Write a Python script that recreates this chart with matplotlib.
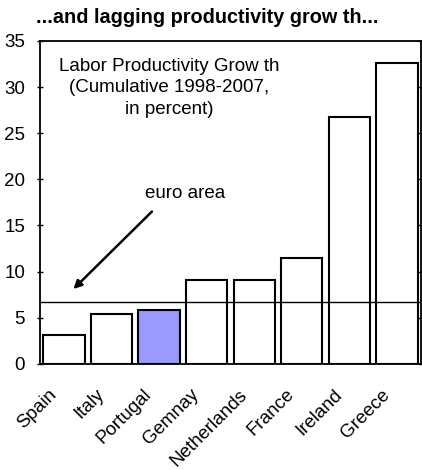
import numpy as np
import matplotlib.pyplot as plt
import matplotlib.transforms as mtransforms

plt.rcParams['font.family'] = ['Liberation Sans', 'DejaVu Sans']

# Kumulatiivinen tuottavuuden kasvu 1998-2007, prosenttia
maat = ['Spain', 'Italy', 'Portugal', 'Gemnay', 'Netherlands', 'France', 'Ireland', 'Greece']
kasvu = [3.1, 5.4, 5.8, 9.1, 9.1, 11.5, 26.8, 32.6]
euroalue = 6.7
korostus = 'Portugal'

fig = plt.figure(figsize=(4.22, 4.70), dpi=100)
ax = fig.add_axes([0.095, 0.226, 0.902, 0.687])

x = np.arange(len(maat))
varit = ['#9999FF' if m == korostus else 'white' for m in maat]
ax.bar(x, kasvu, width=0.87, color=varit, edgecolor='black', linewidth=1.5, zorder=2)
ax.axhline(euroalue, color='black', linewidth=1.0, zorder=3)

ax.set_xlim(-0.5, len(maat) - 0.5)
ax.set_ylim(0, 35)
ax.set_yticks(range(0, 36, 5))
ax.tick_params(axis='y', which='both', direction='inout', length=4.5, width=1,
               labelsize=13.5, right=True, pad=8.5)
ax.tick_params(axis='x', length=0, labelsize=13.5, pad=4)
ax.set_xticks(x)
ax.set_xticklabels(maat, rotation=45, ha='right', rotation_mode='anchor')
siirto = mtransforms.ScaledTranslation(-11.5 / 72, -12 / 72, fig.dpi_scale_trans)
for lab in ax.get_xticklabels():
    lab.set_transform(lab.get_transform() + siirto)
for s in ax.spines.values():
    s.set_linewidth(1.3)

ax.text(0.34, 0.855, 'Labor Productivity Grow th\n(Cumulative 1998-2007,\nin percent)',
        transform=ax.transAxes, ha='center', va='center', fontsize=13.5,
        linespacing=1.35)
ax.text(2.55, 18.5, 'euro area', ha='center', va='center', fontsize=13.5)
ax.annotate('', xy=(0.2, 8.1), xytext=(1.85, 16.5),
            arrowprops=dict(arrowstyle='-|>', color='black', lw=1.8,
                            mutation_scale=12, shrinkA=0, shrinkB=0))

fig.text(0.49, 0.962, '...and lagging productivity grow th...', ha='center', va='center',
         fontsize=14.3, fontweight='bold')

fig.savefig('out.png', dpi=100)
